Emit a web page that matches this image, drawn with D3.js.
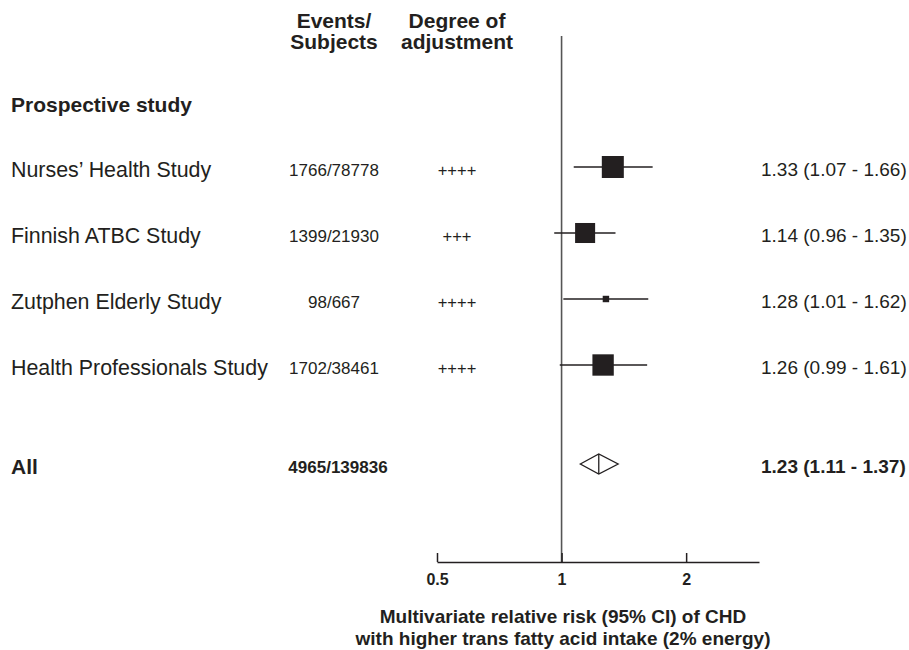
<!DOCTYPE html>
<html>
<head>
<meta charset="utf-8">
<script src="https://cdn.jsdelivr.net/npm/d3@7"></script>
<style>
  body { margin: 0; background: #fff; }
  svg { font-family: "Liberation Sans", Arial, sans-serif; }
</style>
</head>
<body>
<div id="forest"></div>
<script>
'use strict';

// studies (top to bottom)
const studies = ["Nurses\u2019 Health Study", "Finnish ATBC Study", "Zutphen Elderly Study", "Health Professionals Study"];
const events = ["1766/78778", "1399/21930", "98/667", "1702/38461"];
const adjustment = ["++++", "+++", "++++", "++++"];
const rr = [1.33, 1.14, 1.28, 1.26];
const lower = [1.07, 0.96, 1.01, 0.99];
const upper = [1.66, 1.35, 1.62, 1.61];
const weights = [35, 29, 3, 33]; // relative study weight (box area)

// pooled estimate
const pooledLabel = "All";
const pooledEvents = "4965/139836";
const pooled = {rr: 1.23, lower: 1.11, upper: 1.37};

const xTicks = [0.5, 1, 2];
const xDomain = [0.5, 3];

const width = 909, height = 650;
const ink = "#231f20";
const fmt = d3.format(".2f");
const ciText = (m, l, u) => `${fmt(m)} (${fmt(l)} - ${fmt(u)})`;

let svg = d3.select("#forest").append("svg")
    .attr("width", width)
    .attr("height", height)
    .attr("viewBox", `0 0 ${width} ${height}`);

let x = d3.scaleLog().base(2)
    .domain(xDomain)
    .range([437, 759]);

// row positions: 0 = section header, 1..4 = studies, 5.5 = pooled
let y = d3.scaleLinear()
    .domain([0, 1])
    .range([101, 167]);

let box = d3.scaleSqrt()
    .domain([0, d3.max(weights)])
    .range([0, 22]);

const axisY = 562;
const colLabel = 11, colEvents = 334, colAdj = 457, colCI = 761;

// column headers
let head = svg.append("g")
    .attr("fill", ink)
    .attr("font-weight", "bold")
    .attr("font-size", 21)
    .attr("text-anchor", "middle");
head.append("text").attr("x", colEvents).attr("y", 28).text("Events/");
head.append("text").attr("x", colEvents).attr("y", 49).text("Subjects");
head.append("text").attr("x", colAdj).attr("y", 28).text("Degree of");
head.append("text").attr("x", colAdj).attr("y", 49).text("adjustment");

svg.append("text")
    .attr("x", colLabel).attr("y", y(0) + 11)
    .attr("fill", ink)
    .attr("font-weight", "bold")
    .attr("font-size", 21)
    .text("Prospective study");

// line of no effect
svg.append("line")
    .attr("x1", x(1)).attr("x2", x(1))
    .attr("y1", 36).attr("y2", axisY)
    .attr("stroke", "#555")
    .attr("stroke-width", 1.6);

let rows = svg.selectAll(".study")
    .data(studies.map((s, i) => ({
        name: s, events: events[i], adj: adjustment[i],
        rr: rr[i], lo: lower[i], hi: upper[i], w: weights[i], row: i + 1
    })))
    .join("g")
    .attr("class", "study")
    .attr("transform", d => `translate(0,${y(d.row)})`);

rows.append("text")
    .attr("x", colLabel).attr("y", 10)
    .attr("fill", ink).attr("font-size", 21.4)
    .text(d => d.name);

rows.append("text")
    .attr("x", colEvents).attr("y", 9)
    .attr("fill", ink).attr("font-size", 17)
    .attr("text-anchor", "middle")
    .text(d => d.events);

rows.append("text")
    .attr("x", colAdj).attr("y", 9)
    .attr("fill", ink).attr("font-size", 16.5)
    .attr("text-anchor", "middle")
    .text(d => d.adj);

rows.append("line")
    .attr("x1", d => x(d.lo)).attr("x2", d => x(d.hi))
    .attr("y1", 0).attr("y2", 0)
    .attr("stroke", ink)
    .attr("stroke-width", 1.5);

rows.append("rect")
    .attr("x", d => x(d.rr) - box(d.w) / 2)
    .attr("y", d => -box(d.w) / 2)
    .attr("width", d => box(d.w))
    .attr("height", d => box(d.w))
    .attr("fill", ink);

rows.append("text")
    .attr("x", colCI).attr("y", 9)
    .attr("fill", ink).attr("font-size", 19)
    .text(d => ciText(d.rr, d.lo, d.hi));

// pooled row
let all = svg.append("g")
    .attr("transform", `translate(0,${y(5.5)})`);

all.append("text")
    .attr("x", colLabel).attr("y", 10)
    .attr("fill", ink).attr("font-size", 21).attr("font-weight", "bold")
    .text(pooledLabel);

all.append("text")
    .attr("x", colEvents + 4).attr("y", 9)
    .attr("fill", ink).attr("font-size", 17).attr("font-weight", "bold")
    .attr("text-anchor", "middle")
    .text(pooledEvents);

all.append("path")
    .attr("d", `M${x(pooled.lower)},0L${x(pooled.rr)},-10L${x(pooled.upper)},0L${x(pooled.rr)},10Z`)
    .attr("fill", "#fff")
    .attr("stroke", ink)
    .attr("stroke-width", 1.3);

all.append("line")
    .attr("x1", x(pooled.rr)).attr("x2", x(pooled.rr))
    .attr("y1", -10).attr("y2", 10)
    .attr("stroke", ink)
    .attr("stroke-width", 1.3);

all.append("text")
    .attr("x", colCI).attr("y", 9)
    .attr("fill", ink).attr("font-size", 19).attr("font-weight", "bold")
    .text(ciText(pooled.rr, pooled.lower, pooled.upper));

// x axis
svg.append("g")
    .attr("transform", `translate(0,${axisY})`)
    .call(d3.axisBottom(x)
        .tickValues(xTicks)
        .tickFormat(d3.format(""))
        .tickSizeInner(-9)
        .tickSizeOuter(0)
        .tickPadding(12))
    .call(g => g.attr("font-family", null).attr("font-size", 16).attr("font-weight", "bold"))
    .call(g => g.selectAll("path, line").attr("stroke", ink).attr("stroke-width", 1.5))
    .call(g => g.selectAll("text").attr("fill", ink));

let title = svg.append("g")
    .attr("fill", ink)
    .attr("font-weight", "bold")
    .attr("font-size", 19)
    .attr("text-anchor", "middle");
title.append("text").attr("x", 563).attr("y", 623).text("Multivariate relative risk (95% CI) of CHD");
title.append("text").attr("x", 563).attr("y", 645).text("with higher trans fatty acid intake (2% energy)");
</script>
</body>
</html>
